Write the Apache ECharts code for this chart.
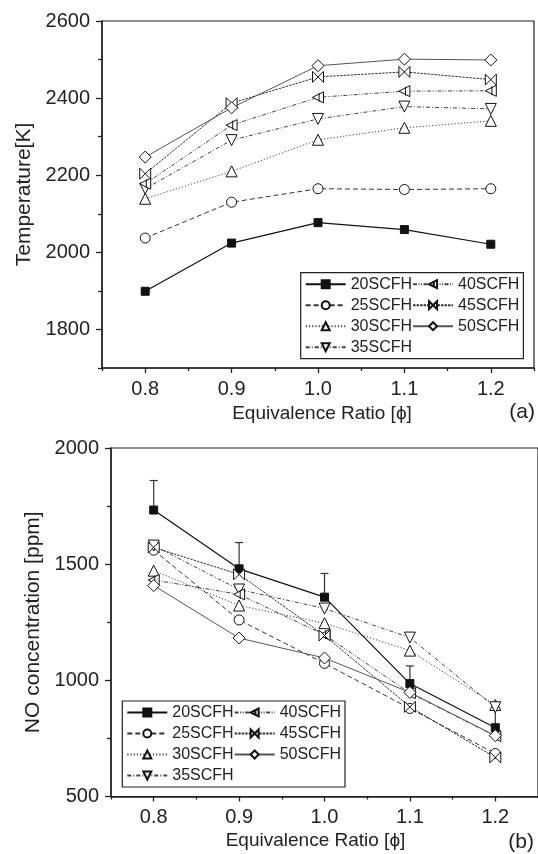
<!DOCTYPE html>
<html>
<head>
<meta charset="utf-8">
<script src="https://cdn.jsdelivr.net/npm/echarts@6/dist/echarts.min.js"></script>
<style>
html,body{margin:0;padding:0;background:#fff;}
#chart{width:538px;height:854px;}
</style>
</head>
<body>
<div id="chart"></div>
<script>
// ---- data ----
const xValues = [0.8, 0.9, 1.0, 1.1, 1.2];
const seriesNames = ['20SCFH', '25SCFH', '30SCFH', '35SCFH', '40SCFH', '45SCFH', '50SCFH'];

// (a) Temperature [K]
const temp20 = [1899, 2024, 2077, 2059, 2021];
const temp25 = [2037, 2130, 2165, 2163, 2165];
const temp30 = [2139, 2210, 2292, 2323, 2341];
const temp35 = [2165, 2291, 2346, 2378, 2372];
const temp40 = [2178, 2330, 2402, 2418, 2419];
const temp45 = [2204, 2387, 2455, 2468, 2448];
const temp50 = [2247, 2375, 2484, 2501, 2499];

// (b) NO concentration [ppm]
const no20 = [1733, 1480, 1358, 986, 796];
const no20ErrTop = [1860, 1593, 1460, 1062, 880];
const no25 = [1560, 1260, 1073, 879, 685];
const no30 = [1472, 1322, 1246, 1128, 894];
const no35 = [1580, 1391, 1309, 1184, 884];
const no40 = [1432, 1370, 1196, 945, 760];
const no45 = [1572, 1456, 1193, 886, 668];
const no50 = [1408, 1182, 1096, 948, 762];

// tick labels
const xTickLabels = [0.8, 0.9, 1.0, 1.1, 1.2];
const xMinorTicks = [0.75, 0.85, 0.95, 1.05, 1.15, 1.25];
const tempTickLabels = [1800, 2000, 2200, 2400, 2600];
const tempMinorTicks = [1700, 1900, 2100, 2300, 2500];
const noTickLabels = [500, 1000, 1500, 2000];
const noMinorTicks = [750, 1250, 1750];

// ---- styles ----
const FONT = '"Liberation Sans", Arial, Helvetica, sans-serif';
const INK = '#222';
const SYM = {
  '20SCFH': {symbol: 'rect', size: 8, fill: '#111', line: {type: 'solid', color: '#111', width: 1.2}},
  '25SCFH': {symbol: 'circle', size: 10, fill: '#fff', line: {type: [5, 3], color: '#333', width: 1}},
  '30SCFH': {symbol: 'triangle', size: 11, fill: '#fff', line: {type: [1.2, 2], color: '#444', width: 1}},
  '35SCFH': {symbol: 'path://M0,0 L10,0 L5,9 Z', size: 11, fill: '#fff', line: {type: [4, 2, 1, 2], color: '#444', width: 1}},
  '40SCFH': {symbol: 'path://M10,0 L0,5 L10,10 Z M6,1 L6,9', size: 11, fill: '#fff', line: {type: [4, 1.5, 1, 1.5, 1, 1.5], color: '#444', width: 1}},
  '45SCFH': {symbol: 'path://M0,0 L10,10 L10,0 L0,10 Z', size: 11, fill: '#fff', line: {type: [2.5, 1], color: '#333', width: 1}},
  '50SCFH': {symbol: 'diamond', size: 12, fill: '#fff', line: {type: 'solid', color: '#555', width: 1}}
};

const tempData = [temp20, temp25, temp30, temp35, temp40, temp45, temp50];
const noData = [no20, no25, no30, no35, no40, no45, no50];

function lineSeries(name, values, axisIdx) {
  const s = SYM[name];
  return {
    name: name,
    type: 'line',
    xAxisIndex: axisIdx,
    yAxisIndex: axisIdx,
    data: xValues.map((x, i) => [x, values[i]]),
    symbol: s.symbol,
    symbolSize: s.size,
    showAllSymbol: true,
    lineStyle: {type: s.line.type, color: s.line.color, width: s.line.width},
    itemStyle: {color: s.fill, borderColor: '#111', borderWidth: 1, opacity: 1},
    emphasis: {disabled: true},
    animation: false,
    z: 3
  };
}

function xAxes(gridIndex, nameGap, namePad) {
  return [{
    type: 'value', gridIndex: gridIndex, min: 0.75, max: 1.25, position: 'bottom',
    axisLine: {show: true, onZero: false, lineStyle: {color: INK, width: 1.5}},
    axisTick: {show: true, customValues: xTickLabels, length: 5, lineStyle: {color: INK, width: 1.3}},
    axisLabel: {show: true, customValues: xTickLabels, formatter: v => Number(v).toFixed(1),
                fontSize: 20, fontFamily: FONT, color: INK, margin: 11},
    splitLine: {show: false},
    name: 'Equivalence Ratio [ϕ]', nameLocation: 'middle', nameGap: nameGap,
    nameTextStyle: {fontSize: 19, fontFamily: FONT, color: INK, padding: namePad}
  }, {
    type: 'value', gridIndex: gridIndex, min: 0.75, max: 1.25, position: 'bottom',
    axisLine: {show: false, onZero: false},
    axisTick: {show: true, customValues: xMinorTicks, length: 3, lineStyle: {color: INK, width: 1.3}},
    axisLabel: {show: false},
    splitLine: {show: false}
  }];
}

function yAxes(gridIndex, min, max, major, minor, name, nameGap) {
  return [{
    type: 'value', gridIndex: gridIndex, min: min, max: max, position: 'left',
    axisLine: {show: true, onZero: false, lineStyle: {color: INK, width: 1.5}},
    axisTick: {show: true, customValues: major, length: 6, lineStyle: {color: INK, width: 1.3}},
    axisLabel: {show: true, customValues: major, formatter: v => String(Math.round(v)),
                fontSize: 20, fontFamily: FONT, color: INK, margin: 12},
    splitLine: {show: false},
    name: name, nameLocation: 'middle', nameGap: nameGap, nameRotate: 90,
    nameTextStyle: {fontSize: 21, fontFamily: FONT, color: INK}
  }, {
    type: 'value', gridIndex: gridIndex, min: min, max: max, position: 'left',
    axisLine: {show: false, onZero: false},
    axisTick: {show: true, customValues: minor, length: 4, lineStyle: {color: INK, width: 1.3}},
    axisLabel: {show: false},
    splitLine: {show: false}
  }];
}

function legendFor(left, top) {
  return {
    orient: 'vertical', left: left, top: top, height: 86,
    data: seriesNames,
    itemGap: 0, itemWidth: 40, itemHeight: 10,
    padding: [1, 4, 1, 4],
    borderColor: INK, borderWidth: 1.2, borderRadius: 0,
    backgroundColor: '#fff',
    selectedMode: false,
    textStyle: {fontSize: 16, fontFamily: FONT, color: INK, lineHeight: 21}
  };
}

const series = [];
seriesNames.forEach((n, i) => series.push(lineSeries(n, tempData[i], 0)));
seriesNames.forEach((n, i) => series.push(lineSeries(n, noData[i], 2)));
series.push({
  type: 'custom',
  xAxisIndex: 2, yAxisIndex: 2,
  data: xValues.map((x, i) => [x, no20[i], no20ErrTop[i]]),
  renderItem: function (params, api) {
    const p0 = api.coord([api.value(0), api.value(1)]);
    const p1 = api.coord([api.value(0), api.value(2)]);
    const w = 4;
    return {
      type: 'group',
      children: [
        {type: 'line', shape: {x1: p0[0], y1: p0[1], x2: p1[0], y2: p1[1]}, style: {stroke: '#333', lineWidth: 1.2}},
        {type: 'line', shape: {x1: p1[0] - w, y1: p1[1], x2: p1[0] + w, y2: p1[1]}, style: {stroke: '#333', lineWidth: 1.2}}
      ]
    };
  },
  animation: false,
  silent: true,
  z: 2
});

const option = {
  backgroundColor: '#fff',
  animation: false,
  grid: [
    {left: 102, top: 21, width: 432, height: 347, show: true, borderColor: INK, borderWidth: 1.2, backgroundColor: 'transparent'},
    {left: 111, top: 448, width: 434, height: 348.5, show: true, borderColor: INK, borderWidth: 1.2, backgroundColor: 'transparent'}
  ],
  xAxis: [].concat(xAxes(0, 36, [0, 0, 0, 8]), xAxes(1, 35, [0, 18, 0, 0])),
  yAxis: [].concat(
    yAxes(0, 1700, 2600, tempTickLabels, tempMinorTicks, 'Temperature[K]', 66),
    yAxes(1, 500, 2000, noTickLabels, noMinorTicks, 'NO concentration [ppm]', 66)
  ),
  legend: [legendFor(300.7, 272.7), legendFor(122.3, 701)],
  graphic: [
    {type: 'text', right: 3, top: 402, style: {text: '(a)', font: '21px ' + FONT, fill: INK}},
    {type: 'text', right: 4, top: 832, style: {text: '(b)', font: '21px ' + FONT, fill: INK}}
  ],
  series: series
};

const chart = echarts.init(document.getElementById('chart'), null, {renderer: 'canvas'});
chart.setOption(option);
</script>
</body>
</html>
